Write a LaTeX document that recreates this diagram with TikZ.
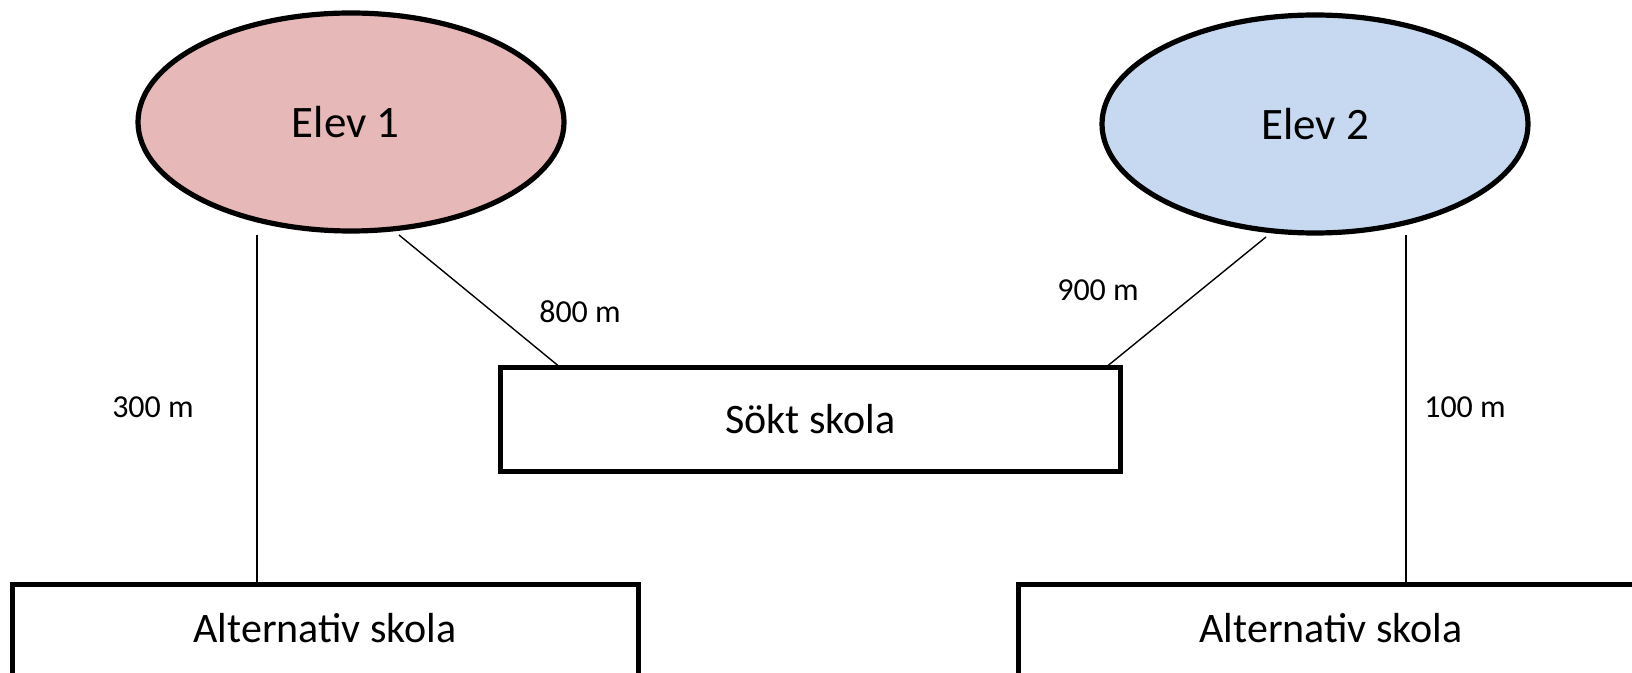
\documentclass[tikz,border=0pt]{standalone}
\usepackage{fontspec}
\setmainfont{Carlito}
\usetikzlibrary{shapes.geometric}
\definecolor{pinkfill}{HTML}{E6B8B7}
\definecolor{bluefill}{HTML}{C6D9F1}
\tikzset{
  elev/.style={ellipse, draw=black, line width=2.6pt, minimum width=213pt, minimum height=109pt, inner sep=0pt, font=\fontsize{22.5}{27}\selectfont},
  skola/.style={rectangle, draw=black, line width=2.5pt, minimum width=313pt, minimum height=51.5pt, inner sep=0pt, font=\fontsize{21}{25}\selectfont},
  dist/.style={font=\fontsize{16}{19}\selectfont, inner sep=0pt},
  conn/.style={draw=black, line width=0.7pt}
}
\begin{document}
\begin{tikzpicture}[x=0.5pt,y=-0.5pt]
\useasboundingbox[fill=white] (0,0) rectangle (1632,673);
\node[elev, fill=pinkfill] (e1) at (351,122) {\hspace*{-5.2pt}\raisebox{-2pt}{Elev 1}};
\node[elev, fill=bluefill] (e2) at (1315,124) {\raisebox{-2pt}{Elev 2}};
\node[skola, minimum width=310pt] (s) at (810.5,419.5) {Sökt skola};
\node[skola] (a1) at (325,636) {\raisebox{8pt}{Alternativ skola}};
\node[skola] (a2) at (1331,636) {\raisebox{8pt}{Alternativ skola}};
\coordinate (p1) at (257,235);
\coordinate (p2) at (399,235);
\coordinate (q2) at (561,368);
\coordinate (p3) at (1266,237);
\coordinate (q3) at (1105,368);
\coordinate (p4) at (1406,235);
\draw[conn] (p1) -- (p1 |- a1.north);
\draw[conn] (p2) -- (q2);
\draw[conn] (p3) -- (q3);
\draw[conn] (p4) -- (p4 |- a2.north);
\node[dist] (l1) at (153,407) {300 m};
\node[dist] (l2) at (580,312) {800 m};
\node[dist] (l3) at (1098,290) {900 m};
\node[dist] (l4) at (1465,407) {100 m};
\end{tikzpicture}
\end{document}
